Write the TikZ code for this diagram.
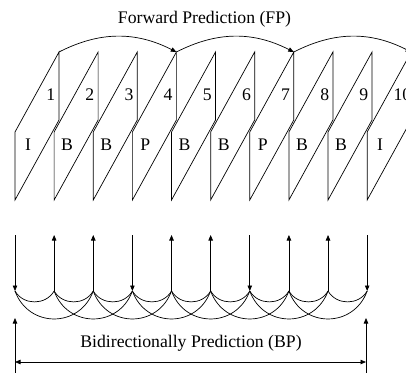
\documentclass[tikz,border=0pt]{standalone}
\usepackage{fontspec}
\setmainfont{Liberation Serif}
\usetikzlibrary{arrows.meta}
\begin{document}
\begin{tikzpicture}[x=1pt,y=1pt,line width=0.7pt,
  tip/.style={-{Triangle[length=5.5pt,width=4.5pt]}},
  dtip/.style={{Triangle[length=5.5pt,width=4.5pt]}-{Triangle[length=5.5pt,width=4.5pt]}},
  lbl/.style={font=\fontsize{17.7}{20}\selectfont,inner sep=0pt,anchor=base},
  numl/.style={font=\fontsize{17.7}{20}\selectfont,inner sep=0pt,anchor=base west},
  smallarc/.style={bend right=60,looseness=1.1},
  bigarc/.style={bend right=70,looseness=1.3},
  fwdarc/.style={tip,bend left=27}]
\useasboundingbox (0,0) rectangle (406,-372);
\clip (0,0) rectangle (406,-372);
% frames
\foreach \i/\f/\n/\d in {0/I/1/31,1/B/2/31,2/B/3/31,3/P/4/31,4/B/5/31,5/B/6/31,6/P/7/31,7/B/8/31,8/B/9/31,9/I/10/26}{
  \pgfmathsetmacro\L{15+39.13*\i}
  \coordinate (f\i bl) at (\L,-200);
  \coordinate (f\i tl) at (\L,-132);
  \coordinate (f\i tr) at (\L+44,-52);
  \coordinate (f\i br) at (\L+44,-120);
  \draw (f\i bl) -- (f\i tl) -- (f\i tr) -- (f\i br) -- cycle;
  \node[lbl] (t\i) at (\L+13,-150) {\f};
  \node[numl] (n\i) at (\L+\d,-100) {\n};
  \coordinate (v\i t) at (\L,-235);
  \coordinate (v\i b) at (\L,-291);
}
% forward prediction arcs
\draw[fwdarc] (f0tr) to (f3tr);
\draw[fwdarc] (f3tr) to (f6tr);
\draw[fwdarc] (f6tr) to (f9tr);
\node[lbl] (fp) at (204.5,-23) {Forward Prediction (FP)};
% vertical arrows
\foreach \i in {0,3,6,9}{\draw[tip] (v\i t) -- (v\i b);}
\foreach \i in {1,2,4,5,7,8}{\draw[tip] (v\i b) -- (v\i t);}
% small arcs
\foreach \i/\j in {0/1,1/2,2/3,3/4,4/5,5/6,6/7,7/8,8/9}{\draw (v\i b) to[smallarc] (v\j b);}
% big arcs
\foreach \i/\j in {0/2,1/3,2/4,3/5,4/6,5/7,6/8,7/9}{\draw (v\i b) to[bigarc] (v\j b);}
% bidirectional bracket
\coordinate (bl0) at (15,-380);
\coordinate (bl1) at (15,-318);
\coordinate (br0) at (366,-380);
\coordinate (br1) at (366,-318);
\coordinate (hl) at (15,-362);
\coordinate (hr) at (366,-362);
\draw[tip] (bl0) -- (bl1);
\draw[tip] (br0) -- (br1);
\draw[dtip] (hl) -- (hr);
\node[lbl] (bp) at (191,-347) {Bidirectionally Prediction (BP)};
\end{tikzpicture}
\end{document}
